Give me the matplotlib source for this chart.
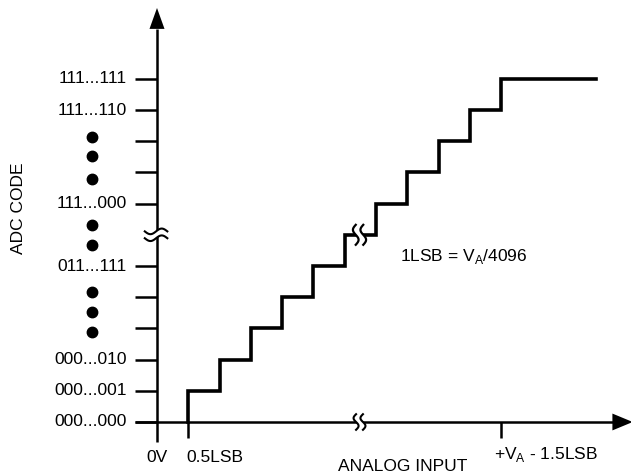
import numpy as np
import matplotlib
matplotlib.use("Agg")
import matplotlib.pyplot as plt
from matplotlib.patches import Polygon

plt.rcParams['font.family'] = ['Liberation Sans', 'DejaVu Sans']
plt.rcParams['mathtext.fontset'] = 'custom'
plt.rcParams['mathtext.rm'] = 'Liberation Sans'

# data: code levels (6 is the axis break) and transition points (LSB steps)
levels = [0, 1, 2, 3, 4, 5, 6, 7, 8, 9, 10, 11]
transitions = [1, 2, 3, 4, 5, 6, 7, 8, 9, 10, 11]
x_end = 14.03
tick_levels = [0, 1, 2, 3, 4, 5, 7, 8, 9, 10, 11]
tick_labels = {0: '000...000', 1: '000...001', 2: '000...010', 5: '011...111',
               7: '111...000', 10: '111...110', 11: '111...111'}
dot_levels = [9.13, 8.52, 7.79, 6.33, 5.67, 4.17, 3.53, 2.88]
break_level = 6
break_x = 6.47

fig = plt.figure(figsize=(6.31, 4.76), dpi=100)
ax = fig.add_axes([0, 0, 1, 1])
ax.set_xlim(-5.016, 15.144)
ax.set_ylim(-1.731, 13.526)
ax.axis('off')

lw_ax = 1.8
lw_st = 2.6
fs = 12.5

# axes
ax.plot([0, 0], [-0.65, 12.6], color='black', lw=lw_ax, solid_capstyle='butt')
ax.plot([-0.7, 14.6], [0, 0], color='black', lw=lw_ax, solid_capstyle='butt')
ax.add_patch(Polygon([[-0.24, 12.6], [0.24, 12.6], [0, 13.27]], closed=True,
                     color='black', lw=0))
ax.add_patch(Polygon([[14.55, -0.27], [14.55, 0.27], [15.2, 0]], closed=True,
                     color='black', lw=0))

# y ticks and labels
for lv in tick_levels:
    ax.plot([-0.7, 0], [lv, lv], color='black', lw=lw_ax, solid_capstyle='butt')
    if lv in tick_labels:
        ax.text(-0.96, lv, tick_labels[lv], ha='right', va='center', fontsize=fs)
ax.plot([-2.08] * len(dot_levels), dot_levels, 'o', color='black', ms=7.5)

# x ticks
for xv in [transitions[0], transitions[-1]]:
    ax.plot([xv, xv], [0, -0.5], color='black', lw=lw_ax, solid_capstyle='butt')

# staircase
xs = [transitions[0]]
ys = [0]
for i, t in enumerate(transitions):
    xs += [t, t]
    ys += [levels[i], levels[i + 1]]
xs.append(x_end)
ys.append(levels[-1])
ax.plot(xs, ys, color='black', lw=lw_st, solid_joinstyle='miter')


def squiggle(cx, cy, half, gap, amp, vertical, lw):
    t = np.linspace(-1, 1, 60)
    along = t * half
    wave = amp * np.sin(np.pi * t)
    if vertical:
        c1 = np.column_stack([cx - gap / 2 + wave, cy - along])
        c2 = np.column_stack([cx + gap / 2 + wave, cy - along])
    else:
        c1 = np.column_stack([cx + along, cy - gap / 2 + wave])
        c2 = np.column_stack([cx + along, cy + gap / 2 + wave])
    ax.add_patch(Polygon(np.vstack([c1, c2[::-1]]), closed=True, color='white',
                         lw=0, zorder=5))
    ax.plot(c1[:, 0], c1[:, 1], color='black', lw=lw, zorder=6)
    ax.plot(c2[:, 0], c2[:, 1], color='black', lw=lw, zorder=6)


squiggle(-0.03, break_level, 0.36, 0.22, 0.09, False, 1.5)
squiggle(break_x, 0, 0.25, 0.22, 0.08, True, 1.5)
squiggle(break_x, break_level, 0.32, 0.24, 0.09, True, 1.6)

# text
ax.text(0, -1.15, '0V', ha='center', va='center', fontsize=fs)
ax.text(0.93, -1.15, '0.5LSB', ha='left', va='center', fontsize=fs)
ax.text(10.77, -1.03, r'+V$_\mathregular{A}$ - 1.5LSB', ha='left', va='center', fontsize=fs)
ax.text(7.86, -1.44, 'ANALOG INPUT', ha='center', va='center', fontsize=fs)
ax.text(7.76, 5.3, r'1LSB = V$_\mathregular{A}$/4096', ha='left', va='center', fontsize=fs)
ax.text(-4.41, 6.86, 'ADC CODE', ha='center', va='center', rotation=90, fontsize=fs)

fig.savefig('out.png', dpi=100)
